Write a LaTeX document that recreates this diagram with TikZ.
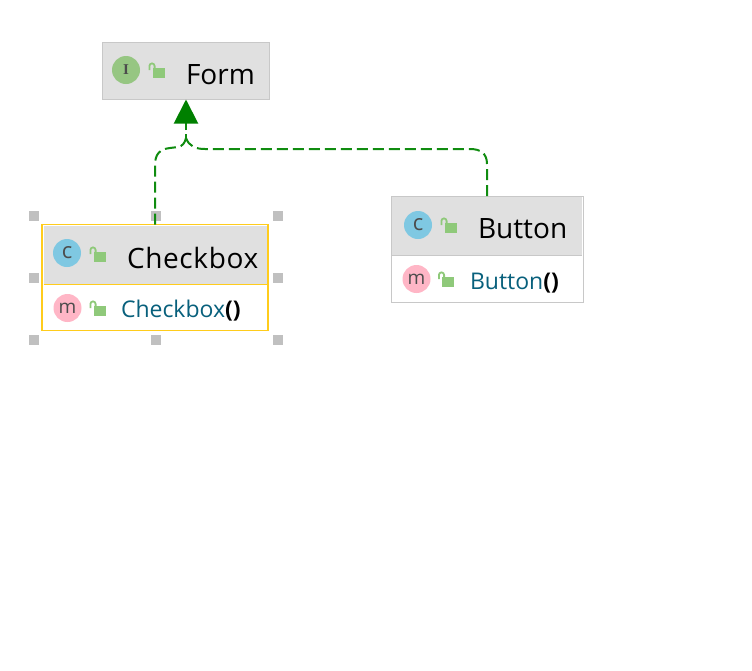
\documentclass[tikz,border=0pt]{standalone}
\usepackage{fontspec}
\setmainfont{Open Sans}
\newfontfamily\slabfont{Liberation Serif}
\usetikzlibrary{arrows.meta,calc}
\definecolor{hdr}{RGB}{224,224,224}
\definecolor{edge}{RGB}{200,200,200}
\definecolor{sel}{RGB}{255,204,28}
\definecolor{lnk}{RGB}{0,128,0}
\definecolor{dashc}{RGB}{16,140,16}
\definecolor{icI}{RGB}{150,198,130}
\definecolor{icC}{RGB}{127,200,226}
\definecolor{icM}{RGB}{255,182,198}
\definecolor{lockc}{RGB}{143,201,122}
\definecolor{mtxt}{RGB}{8,96,124}
\definecolor{hnd}{RGB}{192,192,192}
\tikzset{
  x=1pt,y=-1pt,
  every node/.style={inner sep=0pt,outer sep=0pt},
  headbox/.style={draw=edge,line width=1pt,fill=hdr,anchor=north west},
  bodybox/.style={draw=edge,line width=1pt,fill=white,anchor=north west},
  headfill/.style={fill=hdr,anchor=north west},
  bodysel/.style={draw=sel,line width=1.4pt,fill=white,anchor=north west},
  icon/.style={circle,minimum size=28pt,text=black!70},
  letterc/.style={font=\fontsize{22}{22}\selectfont},
  letterm/.style={font=\fontsize{19}{19}\selectfont},
  letteri/.style={font=\fontsize{15}{15}\slabfont\bfseries},
  title/.style={anchor=base west,font=\fontsize{28}{28}\selectfont,text=black},
  member/.style={anchor=base west,font=\fontsize{23}{23}\selectfont,text=mtxt},
  handle/.style={fill=hnd,minimum size=10pt},
  realize/.style={draw=dashc,line width=2pt,dash pattern=on 11pt off 5pt},
}
\newcommand{\lockat}[2]{%
  \fill[lockc] (#1+4,#2) rectangle (#1+16,#2+10);
  \draw[lockc,line width=1.8pt] (#1+.9,#2+2) -- (#1+.9,#2-2) arc[start angle=180,end angle=0,x radius=2.6,y radius=-2.6] -- (#1+6.1,#2);
}
\newcommand{\cbr}[1]{\textcolor{black}{\textbf{#1}}}
\newcommand{\lowc}[1]{\raisebox{-5.8pt}[0pt][0pt]{#1}}
\newcommand{\lowm}[1]{\raisebox{-5pt}[0pt][0pt]{#1}}
\begin{document}
\begin{tikzpicture}
\useasboundingbox (0,0) rectangle (752,670);
\fill[white] (0,0) rectangle (752,670);
% Form
\node[headbox,minimum width=167pt,minimum height=57pt] (form) at (102.5,42.5) {};
\node[icon,fill=icI,letteri] (formi) at (126,70) {I};
\lockat{148.5}{68}
\node[title] (formt) at (186,84) {Form};
% Checkbox
\node[bodysel,minimum width=226pt,minimum height=106pt] (cb) at (42,224.5) {};
\node[headfill,minimum width=223pt,minimum height=58.5pt] (cbh) at (43.5,226) {};
\draw[sel,line width=1.6pt] (cbh.south west) -- (cbh.south east);
\node[icon,fill=icC,letterc] (cbi) at (67,253) {\lowc{c}};
\lockat{89.5}{252}
\node[title] (cbt) at (127,268) {\addfontfeature{LetterSpace=2.3}Checkbox};
\node[icon,fill=icM,letterm] (cbm) at (67.5,308) {\lowm{m}};
\lockat{89.5}{306}
\node[member] (cbmt) at (121,317.5) {Checkbox\cbr{()}};
% handles
\foreach \n/\x/\y in {a/34/216,b/156/216,c/278/216,d/34/278,e/278/278,f/34/340,g/156/340,h/278/340}
  \node[handle] (h\n) at (\x,\y) {};
% Button
\node[bodybox,minimum width=192pt,minimum height=106pt] (bt) at (391,196) {};
\node[headfill,minimum width=190pt,minimum height=58.5pt] (bth) at (392,197) {};
\draw[edge,line width=1.8pt] (bth.south west) -- (bth.south east);
\node[icon,fill=icC,letterc] (bti) at (418,225) {\lowc{c}};
\lockat{440.5}{223}
\node[title] (btt) at (478,238.5) {Button};
\node[icon,fill=icM,letterm] (btm) at (416.5,279) {\lowm{m}};
\lockat{438}{277}
\node[member] (btmt) at (470,289) {Button\cbr{()}};
% connectors
\coordinate (join) at (186,138);
\draw[realize] (cb.north) -- (cb.north |- 0,165) .. controls (155,154) and (160,149) .. (170,148) -- (178,147) .. controls (182,146.5) and (185,143) .. (join);
\draw[realize] (bt.north) -- (bt.north |- 0,164) .. controls (487,153) and (480,149) .. (470,149) -- (205,149) .. controls (195,149) and (189,146) .. (join);
\draw[realize,dash pattern=on 4pt off 4pt on 20pt,-{Triangle[length=24pt,width=24pt,fill=lnk,color=lnk]}] (join) -- (form.south);
\end{tikzpicture}
\end{document}
